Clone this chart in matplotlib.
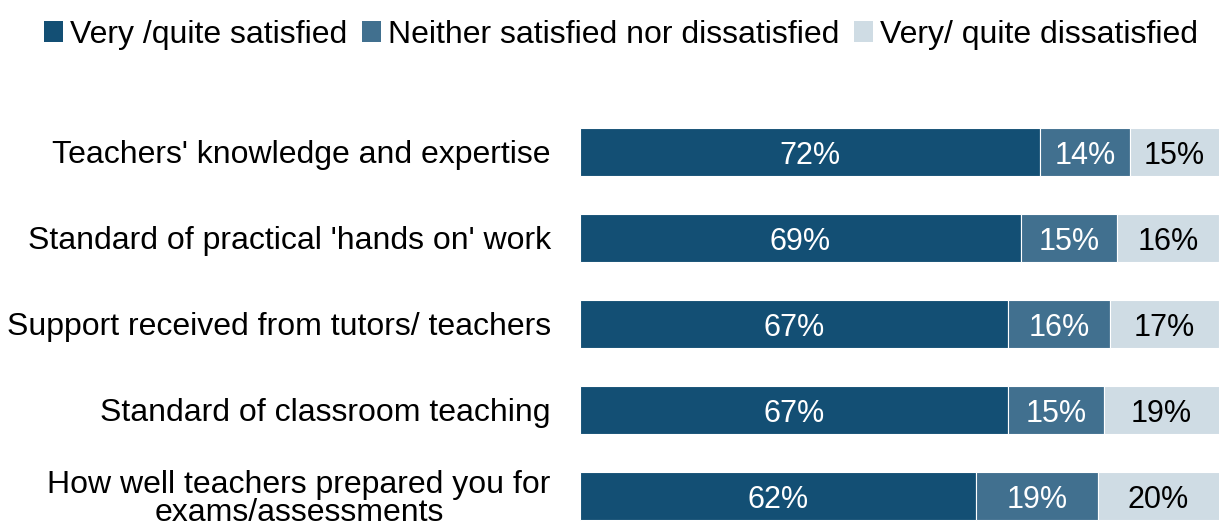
import matplotlib.pyplot as plt
from matplotlib.patches import Patch

plt.rcParams['font.family'] = ['Liberation Sans', 'DejaVu Sans']

categories = [
    "Teachers' knowledge and expertise",
    "Standard of practical 'hands on' work",
    "Support received from tutors/ teachers",
    "Standard of classroom teaching",
    "How well teachers prepared you for\nexams/assessments",
]
series_names = ['Very /quite satisfied', 'Neither satisfied nor dissatisfied',
                'Very/ quite dissatisfied']
satisfied = [72, 69, 67, 67, 62]
neither = [14, 15, 16, 15, 19]
dissatisfied = [15, 16, 17, 19, 20]

colors = ['#134f74', '#41708f', '#cfdce4']
text_colors = ['white', 'white', 'black']

fig = plt.figure(figsize=(12.19, 5.25), dpi=100)
# axes spans from the label column edge to the right edge of the figure
ax = fig.add_axes([580 / 1219, 0, 639 / 1219, 416 / 525])

ypos = list(range(len(categories)))
left = [0] * len(categories)
for vals, col, tcol in zip([satisfied, neither, dissatisfied], colors, text_colors):
    ax.barh(ypos, vals, left=left, height=0.56, color=col,
            edgecolor='white', linewidth=0.8)
    for y, l, v in zip(ypos, left, vals):
        right = min(l + v, 100)
        ax.text((l + right) / 2, y, f'{v}%', ha='center', va='center_baseline',
                color=tcol, fontsize=22)
    left = [l + v for l, v in zip(left, vals)]

ax.set_xlim(0, 100)
ax.set_ylim(-0.5 + 416 / 86, -0.5)
ax.set_yticks(ypos)
ax.set_yticklabels(categories, fontsize=23, multialignment='center',
                   linespacing=0.95)
ax.tick_params(axis='y', length=0, pad=21)
ax.set_xticks([])
for s in ax.spines.values():
    s.set_visible(False)

handles = [Patch(facecolor=c, edgecolor='none') for c in colors]
fig.legend(handles, series_names, loc='upper left', bbox_to_anchor=(0.018, 1.005),
           ncol=3, frameon=False, fontsize=23, handlelength=0.6,
           handleheight=0.6, handletextpad=0.22, columnspacing=0.45,
           borderaxespad=0.3)

fig.savefig('out.png', dpi=100)
